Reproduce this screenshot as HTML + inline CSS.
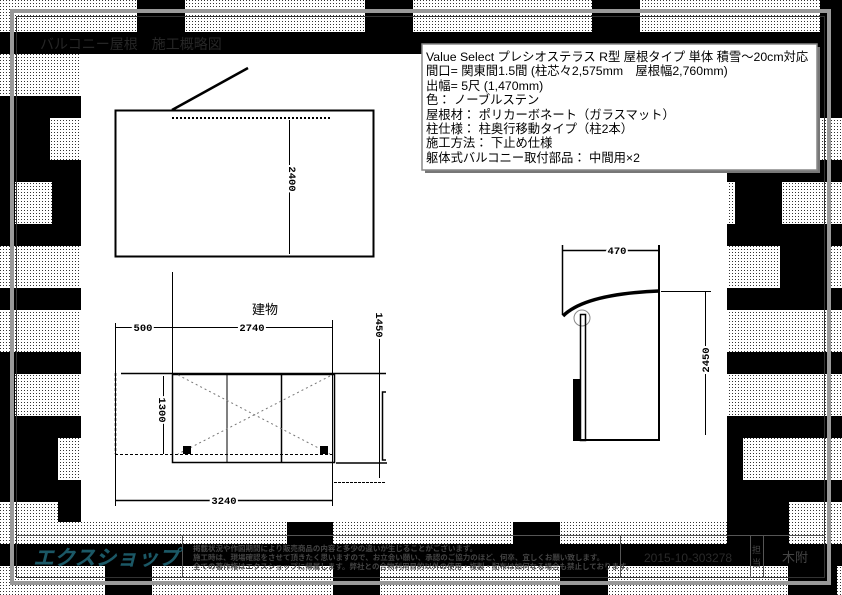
<!DOCTYPE html>
<html><head><meta charset="utf-8"><style>
html,body{margin:0;padding:0;background:#fff;}
svg{display:block}
.t{font-family:"Liberation Sans","Noto Sans CJK JP",sans-serif;}
</style></head><body>
<svg width="842" height="595" viewBox="0 0 842 595" xmlns="http://www.w3.org/2000/svg">
<defs>
<pattern id="d" width="3" height="3" patternUnits="userSpaceOnUse"><rect width="3" height="3" fill="#fff"/><rect width="1" height="1" fill="#333"/></pattern>
</defs>
<rect width="842" height="595" fill="url(#d)"/>
<g fill="#000">
<rect x="0" y="32" width="842" height="22"/>
<rect x="137" y="0" width="48" height="32"/><rect x="365" y="0" width="48" height="32"/>
<rect x="592" y="0" width="48" height="32"/><rect x="820" y="0" width="22" height="32"/>
<g>
<rect x="0" y="96" width="81" height="22"/><rect x="0" y="160" width="81" height="22"/>
<rect x="0" y="224" width="81" height="22"/><rect x="0" y="288" width="81" height="22"/>
<rect x="0" y="352" width="81" height="22"/><rect x="0" y="416" width="81" height="22"/>
<rect x="0" y="480" width="81" height="22"/>
<rect x="727" y="54" width="115" height="42"/>
<rect x="727" y="96" width="115" height="22"/><rect x="727" y="160" width="115" height="22"/>
<rect x="727" y="224" width="115" height="22"/><rect x="727" y="288" width="115" height="22"/>
<rect x="727" y="352" width="115" height="22"/><rect x="727" y="416" width="115" height="22"/>
<rect x="727" y="480" width="115" height="22"/>
</g>
<rect x="0" y="118" width="50" height="42"/>
<rect x="0" y="182" width="15" height="42"/><rect x="52" y="182" width="29" height="42"/>
<rect x="0" y="373" width="15" height="43"/>
<rect x="0" y="437" width="58" height="43"/>
<rect x="58" y="502" width="23" height="20"/>
<rect x="735" y="180" width="47" height="44"/>
<rect x="780" y="246" width="47" height="42"/>
<rect x="727" y="437" width="16" height="43"/>
<rect x="727" y="502" width="62" height="42"/>
<rect x="0" y="544" width="842" height="22"/>
<rect x="287" y="522" width="46" height="22"/><rect x="513" y="522" width="47" height="22"/>
<rect x="740" y="522" width="48" height="22"/>
<rect x="105" y="566" width="47" height="29"/><rect x="333" y="566" width="47" height="29"/>
<rect x="560" y="566" width="48" height="29"/><rect x="788" y="566" width="49" height="29"/>
</g>
<rect x="81" y="54" width="646" height="468" fill="#fff"/>
<rect x="184" y="32" width="47" height="22" fill="#000"/>
<rect x="12" y="11" width="817" height="572" fill="none" stroke="#999" stroke-width="4"/>
<rect x="16.5" y="16.5" width="808" height="561" fill="none" stroke="#333" stroke-width="1"/>
<line x1="16" y1="535.5" x2="825" y2="535.5" stroke="#555"/>
<g stroke="#555"><line x1="182.5" y1="535" x2="182.5" y2="578"/><line x1="620.5" y1="535" x2="620.5" y2="578"/><line x1="750.5" y1="535" x2="750.5" y2="578"/><line x1="763.5" y1="535" x2="763.5" y2="578"/></g>
<text x="40" y="49" class="t" font-size="14" fill="#262626">バルコニー屋根　施工概略図</text>
<text x="33" y="565" class="t" font-size="21" font-weight="bold" font-style="italic" fill="#1b5866">エクスショップ</text>
<g class="t" font-size="7.5" fill="#444" font-weight="bold">
<text x="193" y="551">掲載状況や作図期間により販売商品の内容と多少の違いが生じることがございます。</text>
<text x="193" y="560">施工時は、現場確認をさせて頂きたく思いますので、お立会い願い、承認のご協力のほど、何卒、宜しくお願い致します。</text>
<text x="193" y="569">全ての著作権はエクスショップに帰属します。弊社との合物利用目的以外の使用・複製・配布は如何なる場合も禁止しております。</text>
</g>
<text x="644" y="562" font-family="Liberation Sans" font-size="12" fill="#2a2a2a">2015-10-303278</text>
<text x="752" y="553" class="t" font-size="9" fill="#444">担</text><text x="752" y="566" class="t" font-size="9" fill="#444">当</text>
<text x="782" y="562" class="t" font-size="13" fill="#444">木附</text>
<rect x="425" y="47" width="395" height="126" fill="#777"/>
<rect x="422" y="44" width="395" height="126" fill="#fff" stroke="#888" stroke-width="1.5"/>
<g class="t" font-size="12.3" fill="#000">
<text x="426" y="61">Value Select プレシオステラス R型 屋根タイプ 単体 積雪～20cm対応</text>
<text x="426" y="75">間口= 関東間1.5間 (柱芯々2,575mm　屋根幅2,760mm)</text>
<text x="426" y="90">出幅= 5尺 (1,470mm)</text>
<text x="426" y="104">色： ノーブルステン</text>
<text x="426" y="119">屋根材： ポリカーボネート（ガラスマット）</text>
<text x="426" y="133">柱仕様： 柱奥行移動タイプ（柱2本）</text>
<text x="426" y="147">施工方法： 下止め仕様</text>
<text x="426" y="162">躯体式バルコニー取付部品： 中間用×2</text>
</g>
<g stroke="#000" fill="none">
<rect x="115.5" y="110.5" width="258" height="146" stroke-width="2"/>
<line x1="172" y1="110" x2="248" y2="68" stroke-width="2.5"/>
<line x1="172" y1="118" x2="331" y2="118" stroke-width="2" stroke-dasharray="2,2"/>
<line x1="289.5" y1="120" x2="289.5" y2="254"/>
<line x1="172.5" y1="272" x2="172.5" y2="462"/>
<line x1="115" y1="327.5" x2="332" y2="327.5"/>
<line x1="115.5" y1="323" x2="115.5" y2="506"/>
<line x1="332.5" y1="320" x2="332.5" y2="506"/>
<line x1="121" y1="373.5" x2="386" y2="373.5" stroke-width="1.5"/>
<rect x="172.5" y="374.5" width="162" height="88" stroke-width="1.5"/>
<line x1="227" y1="375" x2="227" y2="462"/><line x1="281.5" y1="375" x2="281.5" y2="462" stroke-width="1.5"/>
<line x1="336" y1="463" x2="387" y2="463" stroke-width="1.5"/>
<line x1="115" y1="454.5" x2="335" y2="454.5" stroke-dasharray="3,2"/>
<line x1="115.5" y1="373" x2="115.5" y2="454" stroke-dasharray="3,2" stroke-width="1.5"/>
<line x1="163.5" y1="376" x2="163.5" y2="454"/>
<line x1="178" y1="375" x2="330" y2="454" stroke="#777" stroke-dasharray="2,3"/>
<line x1="330" y1="376" x2="178" y2="454" stroke="#777" stroke-dasharray="2,3"/>
<line x1="379.5" y1="315" x2="379.5" y2="478"/>
<path d="M386 392 H382.5 V460 H386" stroke-width="1.5"/>
<line x1="334" y1="482.5" x2="386" y2="482.5" stroke-dasharray="3,1"/>
<line x1="115" y1="500.5" x2="332" y2="500.5" stroke-width="1.5"/>
<line x1="563" y1="250.5" x2="659" y2="250.5" stroke-width="1.5"/>
<line x1="562.5" y1="245" x2="562.5" y2="315" stroke-width="1.5"/>
<line x1="659" y1="245" x2="659" y2="441" stroke-width="2"/>
<path d="M563 316 Q585 294 659 291" stroke-width="3.5"/>
<line x1="661" y1="291.5" x2="711" y2="291.5"/>
<line x1="705.5" y1="292" x2="705.5" y2="435"/>
<circle cx="582" cy="318" r="8" stroke="#888"/>
<rect x="580.5" y="314.5" width="5" height="126" stroke-width="1.5"/>
<line x1="573" y1="440" x2="659" y2="440" stroke-width="2"/>
</g>
<rect x="573" y="379" width="7" height="61" fill="#000"/>
<rect x="183" y="446" width="8" height="8" fill="#000"/><rect x="320" y="446" width="8" height="8" fill="#000"/>
<g font-family="Liberation Mono" font-size="10.5" font-weight="bold" fill="#000">
<text x="283" y="185" transform="rotate(90 289 185)" text-anchor="middle" stroke="#fff" stroke-width="4" style="paint-order:stroke">2400</text>
<text x="143" y="331" text-anchor="middle" stroke="#fff" stroke-width="4" style="paint-order:stroke">500</text>
<text x="252" y="331" text-anchor="middle" stroke="#fff" stroke-width="4" style="paint-order:stroke">2740</text>
<text x="163" y="414" transform="rotate(90 163 410)" text-anchor="middle" stroke="#fff" stroke-width="4" style="paint-order:stroke">1300</text>
<text x="379" y="328" transform="rotate(90 379 325)" text-anchor="middle" stroke="#fff" stroke-width="4" style="paint-order:stroke">1450</text>
<text x="224" y="504" text-anchor="middle" stroke="#fff" stroke-width="4" style="paint-order:stroke">3240</text>
<text x="617" y="254" text-anchor="middle" stroke="#fff" stroke-width="4" style="paint-order:stroke">470</text>
<text x="705" y="364" transform="rotate(-90 705 360)" text-anchor="middle" stroke="#fff" stroke-width="4" style="paint-order:stroke">2450</text>
</g>
<text x="252" y="314" class="t" font-size="13" fill="#000">建物</text>
</svg>
</body></html>
